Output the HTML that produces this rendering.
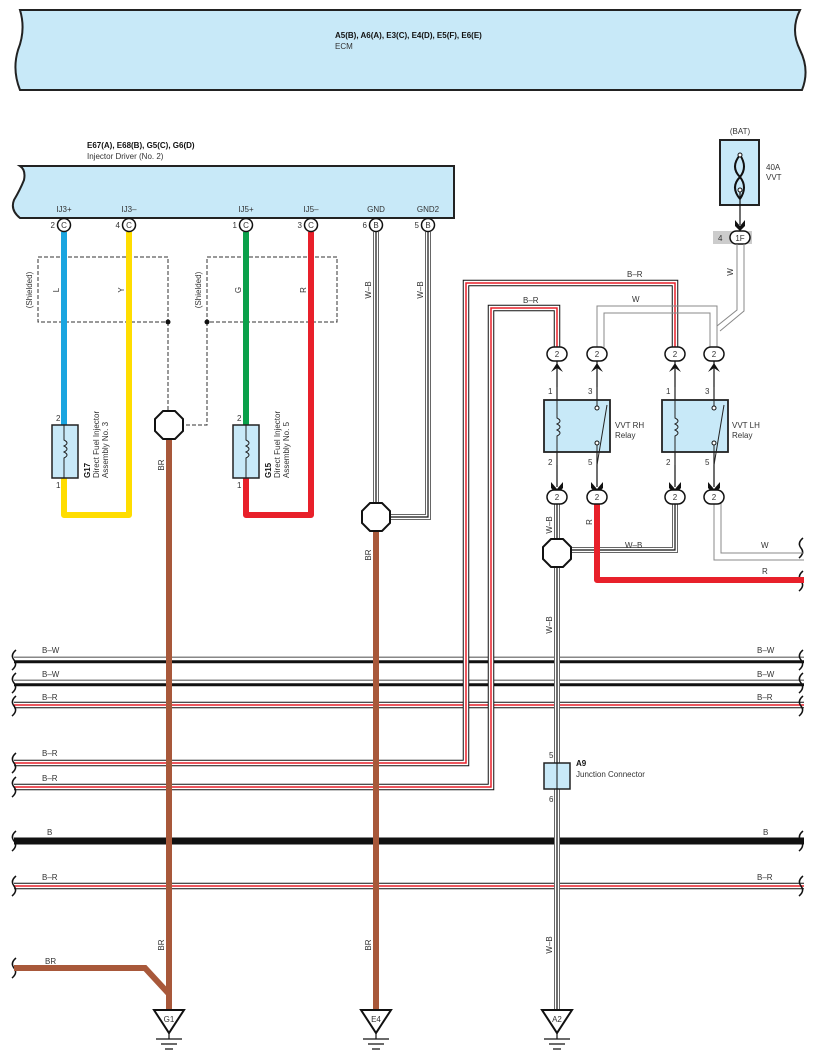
<!DOCTYPE html>
<html><head><meta charset="utf-8"><style>
html,body{margin:0;padding:0;background:#fff}
svg{display:block}
text{font-family:"Liberation Sans",sans-serif;font-size:8px;fill:#333}
.b{font-weight:bold;fill:#111}
</style></head><body>
<svg width="817" height="1063" viewBox="0 0 817 1063" xmlns="http://www.w3.org/2000/svg">
<!-- ECM -->
<path d="M20,10 L800,10 Q790,30 800,50 Q810,70 802,90 L20,90 Q12,70 18,50 Q26,30 20,10 Z" fill="#c8e9f8" stroke="#222" stroke-width="2"/>
<text x="335" y="38" class="b">A5(B), A6(A), E3(C), E4(D), E5(F), E6(E)</text>
<text x="335" y="49">ECM</text>

<!-- Injector driver -->
<text x="87" y="148" class="b">E67(A), E68(B), G5(C), G6(D)</text>
<text x="87" y="159">Injector Driver (No. 2)</text>
<path d="M20,166 L454,166 L454,218 L20,218 Q10,210 14,200 Q20,190 24,180 Q26,170 20,166 Z" fill="#c8e9f8" stroke="#222" stroke-width="2"/>
<g text-anchor="middle">
<text x="64" y="212">IJ3+</text><text x="129" y="212">IJ3–</text><text x="246" y="212">IJ5+</text><text x="311" y="212">IJ5–</text><text x="376" y="212">GND</text><text x="428" y="212">GND2</text>
</g>

<!-- shield boxes -->
<g fill="none" stroke="#333" stroke-dasharray="4,2" stroke-width="1">
<rect x="38" y="257" width="130" height="65"/>
<rect x="207" y="257" width="130" height="65"/>
<path d="M168,322 V411"/>
<path d="M207,322 V425 H183"/>
</g>
<circle cx="168" cy="322" r="2.5" fill="#111"/><circle cx="207" cy="322" r="2.5" fill="#111"/>
<text transform="translate(32,290) rotate(-90)" text-anchor="middle">(Shielded)</text>
<text transform="translate(201,290) rotate(-90)" text-anchor="middle">(Shielded)</text>

<!-- horizontal bus lines -->
<g fill="none">
<g stroke="#111" stroke-width="6.5">
<path d="M14,660 H804"/><path d="M14,683 H804"/>
<path d="M14,705 H804"/><path d="M14,886 H804"/>
</g>
<path d="M14,659 H804" stroke="#fff" stroke-width="2.5"/>
<path d="M14,657.2 H804" stroke="#888" stroke-width="1"/>
<path d="M14,682 H804" stroke="#fff" stroke-width="2.5"/>
<path d="M14,680.2 H804" stroke="#888" stroke-width="1"/>
<path d="M14,705 H804" stroke="#fff" stroke-width="4.5"/><path d="M14,705 H804" stroke="#e8202a" stroke-width="1.5"/>
<path d="M14,886 H804" stroke="#fff" stroke-width="4.5"/><path d="M14,886 H804" stroke="#e8202a" stroke-width="1.5"/>
<path d="M14,841 H804" stroke="#111" stroke-width="7"/>
<path d="M14,763 H466 V283 H675 V347" stroke="#111" stroke-width="6.5"/>
<path d="M14,763 H466 V283 H675 V347" stroke="#fff" stroke-width="4.5"/>
<path d="M14,763 H466 V283 H675 V347" stroke="#e8202a" stroke-width="1.5"/>
<path d="M14,787 H491 V308 H557 V347" stroke="#111" stroke-width="6.5"/>
<path d="M14,787 H491 V308 H557 V347" stroke="#fff" stroke-width="4.5"/>
<path d="M14,787 H491 V308 H557 V347" stroke="#e8202a" stroke-width="1.5"/>
</g>
<g>
<text x="42" y="653">B–W</text><text x="757" y="653">B–W</text>
<text x="42" y="677">B–W</text><text x="757" y="677">B–W</text>
<text x="42" y="700">B–R</text><text x="757" y="700">B–R</text>
<text x="42" y="756">B–R</text><text x="42" y="781">B–R</text>
<text x="47" y="835">B</text><text x="763" y="835">B</text>
<text x="42" y="880">B–R</text><text x="757" y="880">B–R</text>
<text x="627" y="277">B–R</text><text x="523" y="303">B–R</text>
<text x="45" y="964">BR</text>
</g>
<!-- brace breaks -->
<g fill="none" stroke="#111" stroke-width="1.5">
<path d="M16,650 q-6,5 -2,10 q4,5 -2,10"/><path d="M16,673 q-6,5 -2,10 q4,5 -2,10"/>
<path d="M16,696 q-6,5 -2,10 q4,5 -2,10"/><path d="M16,753 q-6,5 -2,10 q4,5 -2,10"/>
<path d="M16,777 q-6,5 -2,10 q4,5 -2,10"/><path d="M16,831 q-6,5 -2,10 q4,5 -2,10"/>
<path d="M16,876 q-6,5 -2,10 q4,5 -2,10"/><path d="M16,958 q-6,5 -2,10 q4,5 -2,10"/>
<path d="M803,650 q-6,5 -2,10 q4,5 -2,10"/><path d="M803,673 q-6,5 -2,10 q4,5 -2,10"/>
<path d="M803,696 q-6,5 -2,10 q4,5 -2,10"/><path d="M803,831 q-6,5 -2,10 q4,5 -2,10"/>
<path d="M803,876 q-6,5 -2,10 q4,5 -2,10"/><path d="M803,538 q-6,5 -2,10 q4,5 -2,10"/>
<path d="M803,571 q-6,5 -2,10 q4,5 -2,10"/>
</g>

<!-- injector wires -->
<g fill="none" stroke-width="6">
<path d="M64,232 V425" stroke="#1aa5e0"/>
<path d="M129,232 V515 H64 V478" stroke="#ffdd00" stroke-linejoin="round"/>
<path d="M246,232 V425" stroke="#0aa04a"/>
<path d="M311,232 V515 H246 V478" stroke="#e8202a" stroke-linejoin="round"/>
<path d="M169,439 V1010" stroke="#a8583a"/>
<path d="M376,531 V1010" stroke="#a8583a"/>
<path d="M14,968 H145 L169,994" stroke="#a8583a"/>
</g>
<text transform="translate(59,290) rotate(-90)" text-anchor="middle">L</text>
<text transform="translate(124,290) rotate(-90)" text-anchor="middle">Y</text>
<text transform="translate(241,290) rotate(-90)" text-anchor="middle">G</text>
<text transform="translate(306,290) rotate(-90)" text-anchor="middle">R</text>
<text transform="translate(164,465) rotate(-90)" text-anchor="middle">BR</text>
<text transform="translate(371,555) rotate(-90)" text-anchor="middle">BR</text>
<text transform="translate(164,945) rotate(-90)" text-anchor="middle">BR</text>
<text transform="translate(371,945) rotate(-90)" text-anchor="middle">BR</text>
<!-- GND W-B -->
<g fill="none">
<path d="M376,232 V503" stroke="#666" stroke-width="6"/><path d="M376,232 V503" stroke="#fff" stroke-width="4"/><path d="M376,232 V503" stroke="#111" stroke-width="1.2"/>
<path d="M428,232 V517 H390" stroke="#666" stroke-width="6"/><path d="M428,232 V517 H390" stroke="#fff" stroke-width="4"/><path d="M428,232 V517 H390" stroke="#111" stroke-width="1.2"/>
</g>
<text transform="translate(371,290) rotate(-90)" text-anchor="middle">W–B</text>
<text transform="translate(423,290) rotate(-90)" text-anchor="middle">W–B</text>

<!-- pin circles -->
<g stroke="#111" stroke-width="1.5" fill="#fff">
<circle cx="64" cy="225" r="6.5"/><circle cx="129" cy="225" r="6.5"/><circle cx="246" cy="225" r="6.5"/><circle cx="311" cy="225" r="6.5"/><circle cx="376" cy="225" r="6.5"/><circle cx="428" cy="225" r="6.5"/>
</g>
<g text-anchor="middle">
<text x="64" y="228">C</text><text x="129" y="228">C</text><text x="246" y="228">C</text><text x="311" y="228">C</text><text x="376" y="228">B</text><text x="428" y="228">B</text>
</g>
<g text-anchor="end">
<text x="55" y="228">2</text><text x="120" y="228">4</text><text x="237" y="228">1</text><text x="302" y="228">3</text><text x="367" y="228">6</text><text x="419" y="228">5</text>
</g>

<!-- injectors -->
<g fill="#c8e9f8" stroke="#222" stroke-width="1.5">
<rect x="52" y="425" width="26" height="53"/><rect x="233" y="425" width="26" height="53"/>
</g>
<g fill="none" stroke="#222" stroke-width="1">
<path d="M64,425 V440 q6,3 0,6 q6,3 0,6 q6,3 0,6 V478"/>
<path d="M246,425 V440 q6,3 0,6 q6,3 0,6 q6,3 0,6 V478"/>
</g>
<text x="56" y="421">2</text><text x="56" y="488">1</text><text x="237" y="421">2</text><text x="237" y="488">1</text>
<g>
<text transform="translate(90,478) rotate(-90)"><tspan class="b">G17</tspan></text>
<text transform="translate(99,478) rotate(-90)">Direct Fuel Injector</text>
<text transform="translate(108,478) rotate(-90)">Assembly No. 3</text>
<text transform="translate(271,478) rotate(-90)"><tspan class="b">G15</tspan></text>
<text transform="translate(280,478) rotate(-90)">Direct Fuel Injector</text>
<text transform="translate(289,478) rotate(-90)">Assembly No. 5</text>
</g>

<!-- octagons -->
<g fill="#fff" stroke="#111" stroke-width="2">
<polygon points="163,411 175,411 183,419 183,431 175,439 163,439 155,431 155,419"/>
<polygon points="370,503 382,503 390,511 390,523 382,531 370,531 362,523 362,511"/>
</g>

<!-- BAT fuse -->
<text x="740" y="134" text-anchor="middle">(BAT)</text>
<rect x="720" y="140" width="39" height="65" fill="#c8e9f8" stroke="#222" stroke-width="2"/>
<path d="M740,155 q-10,12 0,22 q8,10 0,22 M740,155 q8,12 0,22 q-10,10 0,22" fill="none" stroke="#111" stroke-width="2"/>
<circle cx="740" cy="155" r="2" fill="#fff" stroke="#111"/><circle cx="740" cy="190" r="2" fill="#fff" stroke="#111"/>
<text x="766" y="170">40A</text><text x="766" y="180">VVT</text>
<path d="M740,192 V225" stroke="#111" stroke-width="1.2"/>
<path d="M735,220 L740,226 L745,220 L745,226 L740,231 L735,226 Z" fill="#111"/>
<rect x="713" y="231" width="39" height="13" fill="#ccc"/>
<rect x="730" y="231" width="20" height="13" rx="6.5" fill="#fff" stroke="#111" stroke-width="1.5"/>
<text x="740" y="241" text-anchor="middle">1F</text><text x="718" y="241">4</text>

<!-- W wires to relays -->
<g fill="none" stroke="#888" stroke-width="1">
<path d="M737,244 V310 L717,326 V347"/>
<path d="M744,244 V311 L720,331"/>
<path d="M597,347 V306 H717 V326"/>
<path d="M604,347 V313 H710 V347"/>
<path d="M714,503 V560 H804"/><path d="M721,503 V553 H804"/>
</g>
<text transform="translate(733,272) rotate(-90)" text-anchor="middle">W</text>
<text x="632" y="302">W</text><text x="761" y="548">W</text>

<!-- relay lower wires -->
<g fill="none">
<path d="M557,503 V1010" stroke="#666" stroke-width="6"/><path d="M557,503 V1010" stroke="#fff" stroke-width="4"/><path d="M557,503 V1010" stroke="#111" stroke-width="1.2"/>
<path d="M675,503 V550 H571" stroke="#666" stroke-width="6"/><path d="M675,503 V550 H571" stroke="#fff" stroke-width="4"/><path d="M675,503 V550 H571" stroke="#111" stroke-width="1.2"/>
<path d="M597,503 V580 H804" stroke="#e8202a" stroke-width="6" stroke-linejoin="round"/>
</g>
<text transform="translate(552,525) rotate(-90)" text-anchor="middle">W–B</text>
<text transform="translate(592,522) rotate(-90)" text-anchor="middle">R</text>
<text x="625" y="548">W–B</text><text x="762" y="574">R</text>
<text transform="translate(552,625) rotate(-90)" text-anchor="middle">W–B</text>
<text transform="translate(552,945) rotate(-90)" text-anchor="middle">W–B</text>
<polygon points="551,539 563,539 571,547 571,559 563,567 551,567 543,559 543,547" fill="#fff" stroke="#111" stroke-width="2"/>

<!-- relay connectors + arrows -->
<g stroke="#111" stroke-width="1.2" fill="none">
<path d="M557,361 V487 M597,361 V487 M675,361 V487 M714,361 V487"/>
</g>
<g fill="#111">
<path d="M551,372 L557,363 L563,372 L557,368 Z"/><path d="M591,372 L597,363 L603,372 L597,368 Z"/>
<path d="M669,372 L675,363 L681,372 L675,368 Z"/><path d="M708,372 L714,363 L720,372 L714,368 Z"/>
<path d="M551,482 L557,489 L563,482 L563,488 L557,494 L551,488 Z"/><path d="M591,482 L597,489 L603,482 L603,488 L597,494 L591,488 Z"/>
<path d="M669,482 L675,489 L681,482 L681,488 L675,494 L669,488 Z"/><path d="M708,482 L714,489 L720,482 L720,488 L714,494 L708,488 Z"/>
</g>
<g fill="#fff" stroke="#111" stroke-width="1.5">
<rect x="547" y="347" width="20" height="14" rx="7"/><rect x="587" y="347" width="20" height="14" rx="7"/>
<rect x="665" y="347" width="20" height="14" rx="7"/><rect x="704" y="347" width="20" height="14" rx="7"/>
<rect x="547" y="490" width="20" height="14" rx="7"/><rect x="587" y="490" width="20" height="14" rx="7"/>
<rect x="665" y="490" width="20" height="14" rx="7"/><rect x="704" y="490" width="20" height="14" rx="7"/>
</g>
<g text-anchor="middle">
<text x="557" y="357">2</text><text x="597" y="357">2</text><text x="675" y="357">2</text><text x="714" y="357">2</text>
<text x="557" y="500">2</text><text x="597" y="500">2</text><text x="675" y="500">2</text><text x="714" y="500">2</text>
</g>
<!-- relays -->
<g fill="#c8e9f8" stroke="#222" stroke-width="1.8">
<rect x="544" y="400" width="66" height="52"/><rect x="662" y="400" width="66" height="52"/>
</g>
<g fill="none" stroke="#222" stroke-width="1">
<path d="M557,387 V418 q6,3 0,6 q6,3 0,6 q6,3 0,6 V465"/>
<path d="M675,387 V418 q6,3 0,6 q6,3 0,6 q6,3 0,6 V465"/>
<path d="M597,387 V408 M597,443 V465 L607,405"/>
<path d="M714,387 V408 M714,443 V465 L724,405"/>
</g>
<g fill="#fff" stroke="#111"><circle cx="597" cy="408" r="2"/><circle cx="597" cy="443" r="2"/><circle cx="714" cy="408" r="2"/><circle cx="714" cy="443" r="2"/></g>
<text x="548" y="394">1</text><text x="588" y="394">3</text><text x="666" y="394">1</text><text x="705" y="394">3</text>
<text x="548" y="465">2</text><text x="588" y="465">5</text><text x="666" y="465">2</text><text x="705" y="465">5</text>
<text x="615" y="428">VVT RH</text><text x="615" y="438">Relay</text>
<text x="732" y="428">VVT LH</text><text x="732" y="438">Relay</text>

<!-- A9 -->
<rect x="544" y="763" width="26" height="26" fill="#c8e9f8" stroke="#222" stroke-width="1.5"/>
<path d="M557,763 V789" stroke="#111" stroke-width="1"/>
<text x="549" y="758">5</text><text x="549" y="802">6</text>
<text x="576" y="766" class="b">A9</text><text x="576" y="777">Junction Connector</text>

<!-- grounds -->
<g fill="#fff" stroke="#111" stroke-width="2">
<polygon points="154,1010 184,1010 169,1033"/><polygon points="361,1010 391,1010 376,1033"/><polygon points="542,1010 572,1010 557,1033"/>
</g>
<g stroke="#111" stroke-width="1.2">
<path d="M169,1033 V1039 M156,1039 H182 M161,1044 H177 M165,1049 H173"/>
<path d="M376,1033 V1039 M363,1039 H389 M368,1044 H384 M372,1049 H380"/>
<path d="M557,1033 V1039 M544,1039 H570 M549,1044 H565 M553,1049 H561"/>
</g>
<g text-anchor="middle"><text x="169" y="1022">G1</text><text x="376" y="1022">E4</text><text x="557" y="1022">A2</text></g>
</svg>
</body></html>
